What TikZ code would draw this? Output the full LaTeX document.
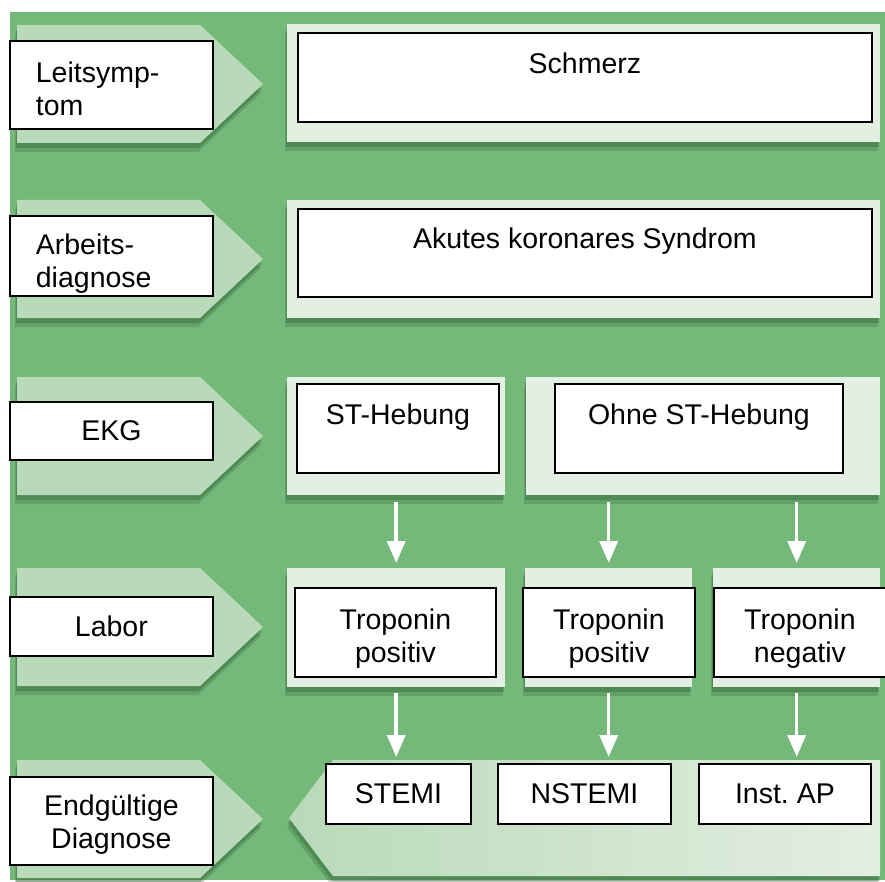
\documentclass[tikz,border=0pt]{standalone}
\usepackage{fontspec}
\setmainfont{Liberation Sans}
\usepackage{tikz}
\usetikzlibrary{
	calc,
	arrows.meta,
	shadows
	}
\definecolor{gruen}{RGB}{116,185,121}
\definecolor{hellgruen}{RGB}{184,218,184}
\definecolor{blass}{RGB}{229,238,226}
\definecolor{schatten}{RGB}{45,95,50}
\tikzstyle{schatten-std}=[drop shadow={shadow xshift=-2pt,shadow yshift=-9pt,opacity=.25,fill=schatten},
   drop shadow={shadow xshift=-1pt,shadow yshift=-5pt,opacity=.35,fill=schatten}]
\tikzstyle{spitze-std}=[fill=hellgruen,schatten-std]
\tikzstyle{feld-std}=[fill=blass,inner sep=0pt,anchor=north west,schatten-std]
\tikzstyle{kasten-std}=[draw,fill=white,line width=1.8pt,inner sep=0pt,anchor=north west,font=\fontsize{28.5}{33}\selectfont]
\tikzstyle{etikett-std}=[kasten-std,minimum width=203pt,align=center]
\tikzstyle{pfeil-std}=[white,line width=3.5pt,-{Triangle[width=18pt,length=22pt]},shorten <=7pt,shorten >=5pt]

\begin{document}
\begin{tikzpicture}[x=1pt,y=-1pt]
\fill[white] (0,0) rectangle (885,882);
\useasboundingbox (0,0) rectangle (885,882);
\fill[gruen] (10,12) rectangle (885,880);

% linke Spalte
\foreach \t in {25,200,377,568,760}
   \fill[spitze-std] (17,\t) -- (200,\t) -- (263,\t+59) -- (200,\t+118) -- (17,\t+118) -- cycle;

% Felder
\node[feld-std, minimum width=593pt, minimum height=118pt] (f1) at (287,24) {};
\node[feld-std, minimum width=593pt, minimum height=118pt] (f2) at (287,200) {};
\node[feld-std, minimum width=218pt, minimum height=118pt] (fST) at (287,377) {};
\node[feld-std, minimum width=354pt, minimum height=118pt] (fOhne) at (526,377) {};
\node[feld-std, minimum width=218pt, minimum height=119pt] (fT1) at (287,568) {};
\node[feld-std, minimum width=167pt, minimum height=119pt] (fT2) at (525,568) {};
\node[feld-std, minimum width=167pt, minimum height=119pt] (fT3) at (713,568) {};
\path[left color=hellgruen, right color=blass, schatten-std]
   (289,818) -- (333,760) -- (880,760) -- (880,876) -- (333,876) -- cycle;
\coordinate (ziel) at (333,760);

% Etiketten
\node[etikett-std, text width=151pt, inner xsep=26pt, align=left, text height=42pt, text depth=46pt] (leit) at (9,40) {Leitsymp-\\tom};
\node[etikett-std, text width=151pt, inner xsep=26pt, align=left, text height=39pt, text depth=41pt] (arbeit) at (9,215) {Arbeits-\\diagnose};
\node[etikett-std, minimum height=58pt] (ekg) at (9,401) {EKG};
\node[etikett-std, minimum height=59pt] (labor) at (9,596) {Labor};
\node[etikett-std, text height=72pt, text depth=16pt] (endg) at (9,776) {Endg\"ultige\\Diagnose};

% Kaesten
\node[kasten-std, minimum width=574pt, text height=41pt, text depth=48pt] (schmerz) at (297,32) {Schmerz};
\node[kasten-std, minimum width=574pt, text height=40pt, text depth=48pt] (aks) at (297,208) {Akutes koronares Syndrom};
\node[kasten-std, minimum width=202pt, text height=41pt, text depth=48pt] (st) at (296,383) {ST-Hebung};
\node[kasten-std, minimum width=288pt, text height=41pt, text depth=48pt] (ohne) at (554,383) {Ohne ST-Hebung};
\node[kasten-std, minimum width=201pt, text height=75pt, text depth=14pt, align=center] (trop1) at (294,587) {Troponin\\positiv};
\node[kasten-std, minimum width=172pt, text height=75pt, text depth=14pt, align=center] (trop2) at (522,587) {Troponin\\positiv};
\node[kasten-std, minimum width=172pt, text height=75pt, text depth=14pt, align=center] (trop3) at (713,587) {Troponin\\negativ};
\node[kasten-std, minimum width=145pt, minimum height=60pt] (stemi) at (325,763) {STEMI};
\node[kasten-std, minimum width=173pt, minimum height=60pt] (nstemi) at (497,763) {NSTEMI};
\node[kasten-std, minimum width=172pt, minimum height=60pt] (ap) at (698,763) {Inst.\ AP};

% Pfeile
\draw[pfeil-std] (fST.south) -- (fT1.north);
\draw[pfeil-std] (fT2.north |- fOhne.south) -- (fT2.north);
\draw[pfeil-std] (fT3.north |- fOhne.south) -- (fT3.north);
\foreach \f in {fT1,fT2,fT3}
   \draw[pfeil-std, shorten <=6pt, shorten >=3pt] (\f.south) -- (\f.south |- ziel);
\end{tikzpicture}
\end{document}
